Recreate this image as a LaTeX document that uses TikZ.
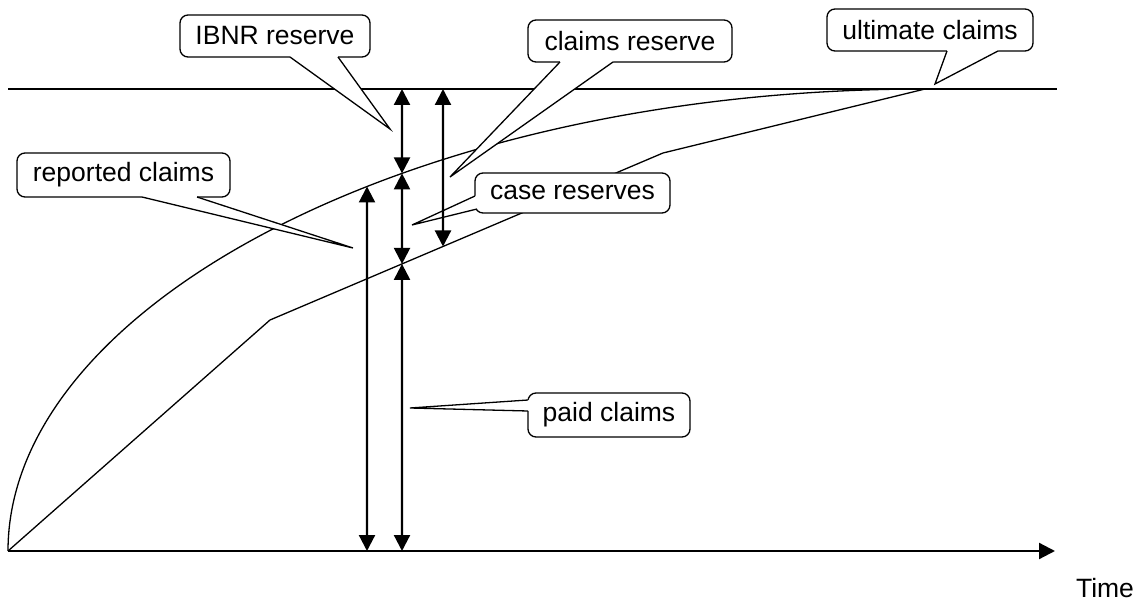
\documentclass[tikz,border=0pt]{standalone}
\usepackage{fontspec}
\setmainfont{Liberation Sans}
\usetikzlibrary{arrows.meta,calc,intersections}
\newcommand\callwedge[4]{%
  \fill[white] ($#1+#4$) -- #1 -- #3 -- #2 -- ($#2+#4$) -- cycle;
  \draw[thinln,line join=miter] #1 -- #3 -- #2;}
\begin{document}
\begin{tikzpicture}[x=1pt,y=-1pt,
  thinln/.style={line width=1.3pt},
  callbox/.style={draw,fill=white,line width=1.3pt,rounded corners=8pt,inner sep=0pt,
    font=\fontsize{26.5}{31}\selectfont},
  dbl/.style={line width=2.2pt,{Triangle[length=16pt,width=16pt]}-{Triangle[length=16pt,width=16pt]}},
  lbl/.style={font=\fontsize{26.5}{31}\selectfont,inner sep=0pt}]
\useasboundingbox (0,0) rectangle (1138,601);
% frame points
\coordinate (O) at (8,551);
\coordinate (U) at (925,89);
\coordinate (TL) at (8,89);
\coordinate (TR) at (1057,89);
\coordinate (AX) at (1055,551);
\coordinate (K1) at (270,320);
\coordinate (K2) at (663,153);
% lines
\draw[thinln] (TL) -- (TR);
\draw[line width=2.2pt,-{Triangle[length=16pt,width=16pt]}] (O) -- (AX);
\draw[thinln,name path=rep] (O) .. controls (8,305) and (415,89) .. (U);
\draw[thinln,name path=paid,line join=round] (O) -- (K1) -- (K2) -- (U);
% arrow end points
\path[name path=v1] (367,0) -- (367,601);
\path[name path=v2] (402,0) -- (402,601);
\path[name path=v3] (443,0) -- (443,601);
\path[name intersections={of=rep and v1,by=r1}];
\path[name intersections={of=rep and v2,by=r2}];
\path[name intersections={of=paid and v2,by=p2}];
\path[name intersections={of=paid and v3,by=p3}];
\coordinate (t2) at (402,89);
\coordinate (t3) at (443,89);
\coordinate (b1) at (367,551);
\coordinate (b2) at (402,551);
% callouts
\node[callbox,minimum width=190pt,minimum height=42pt] (ibnr) at (275,36) {IBNR reserve};
\node[callbox,minimum width=204pt,minimum height=42pt] (cres) at (630,41) {claims reserve};
\node[callbox,minimum width=206pt,minimum height=42pt] (ult) at (930,30) {ultimate claims};
\node[callbox,minimum width=213pt,minimum height=44pt] (rep) at (123.5,175) {reported claims};
\node[callbox,minimum width=195pt,minimum height=40pt] (case) at (572.5,193) {case reserves};
\node[callbox,minimum width=162pt,minimum height=44pt] (paidc) at (609,415) {paid claims};
\coordinate (ibnrtip) at (390,129);
\coordinate (crestip) at (450,177);
\coordinate (ulttip) at (935,84);
\coordinate (reptip) at (353,248);
\coordinate (casetip) at (412,225);
\coordinate (paidtip) at (410,408);
\callwedge{(290,57)}{(338,57)}{(ibnrtip)}{(0,-2.5)}
\callwedge{(560,62)}{(613,62)}{(crestip)}{(0,-2.5)}
\callwedge{(947,51)}{(998,51)}{(ulttip)}{(0,-2.5)}
\callwedge{(142,197)}{(197,197)}{(reptip)}{(0,-2.5)}
\callwedge{(475,196)}{(477,209)}{(casetip)}{(3,0)}
\callwedge{(528,400)}{(528,411)}{(paidtip)}{(2.5,0)}
% arrows
\draw[dbl] (r1) -- (b1);
\draw[dbl] (t2) -- (r2);
\draw[dbl] (r2) -- (p2);
\draw[dbl] (p2) -- (b2);
\draw[dbl] (t3) -- (p3);
\node[lbl] (time) at (1105,588) {Time};
\end{tikzpicture}
\end{document}
